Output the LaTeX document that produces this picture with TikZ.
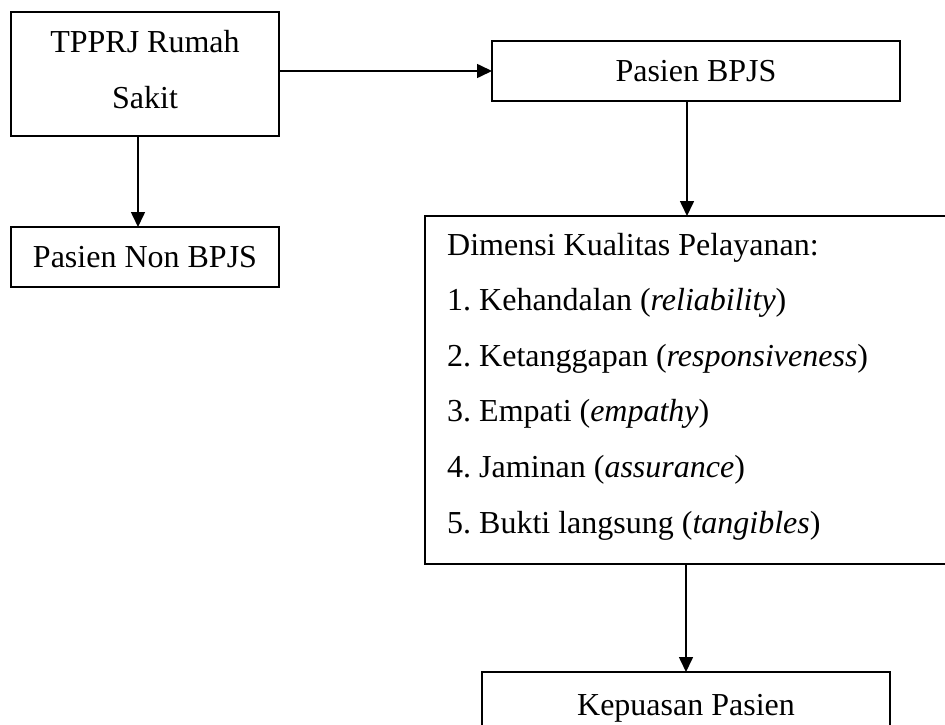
\documentclass[tikz,border=0pt]{standalone}
\usepackage{fontspec}
\setmainfont{Liberation Serif}
\usetikzlibrary{arrows.meta}
\frenchspacing
\begin{document}
\begin{tikzpicture}[x=1pt,y=-1pt,
  box/.style={draw, line width=1.6pt, inner sep=0pt, outer sep=0pt},
  txt/.style={font=\fontsize{32}{40}\selectfont, inner sep=0pt, anchor=base},
  ltxt/.style={txt, anchor=base west},
  arr/.style={line width=1.6pt, -{Triangle[length=15pt,width=14pt]}}]
\useasboundingbox (0,0) rectangle (945,725);
% boxes
\node[box, minimum width=268pt, minimum height=124pt] (rs) at (145,74) {};
\node[box, minimum width=268pt, minimum height=60pt] (nb) at (145,257) {};
\node[box, minimum width=408pt, minimum height=60pt] (bp) at (696,71) {};
\node[box, minimum width=522pt, minimum height=348pt] (dim) at (686,390) {};
\node[box, minimum width=408pt, minimum height=60pt] (kp) at (686,702) {};
% texts
\node[txt] (rs1) at (145,52.5) {TPPRJ Rumah};
\node[txt] (rs2) at (145,108) {Sakit};
\node[txt] (nbt) at (145,267.5) {Pasien Non BPJS};
\node[txt] (bpt) at (696,81.5) {Pasien BPJS};
\node[txt] (kpt) at (686,715) {Kepuasan Pasien};
\node[ltxt] (d0) at (447,255) {Dimensi Kualitas Pelayanan:};
\node[ltxt] (d1) at (447,310.6) {1. Kehandalan (\textit{reliability})};
\node[ltxt] (d2) at (447,366.2) {2. Ketanggapan (\textit{responsiveness})};
\node[ltxt] (d3) at (447,421.8) {3. Empati (\textit{empathy})};
\node[ltxt] (d4) at (447,477.4) {4. Jaminan (\textit{assurance})};
\node[ltxt] (d5) at (447,533) {5. Bukti langsung (\textit{tangibles})};
% connectors
\draw[arr] (rs.east |- bp.west) -- (bp.west);
\draw[arr] ([xshift=-7pt]rs.south) -- ([xshift=-7pt]nb.north);
\draw[arr] ([xshift=-9pt]bp.south) -- ([xshift=-9pt]bp.south |- dim.north);
\draw[arr] (dim.south -| kp.north) -- (kp.north);
\end{tikzpicture}
\end{document}
